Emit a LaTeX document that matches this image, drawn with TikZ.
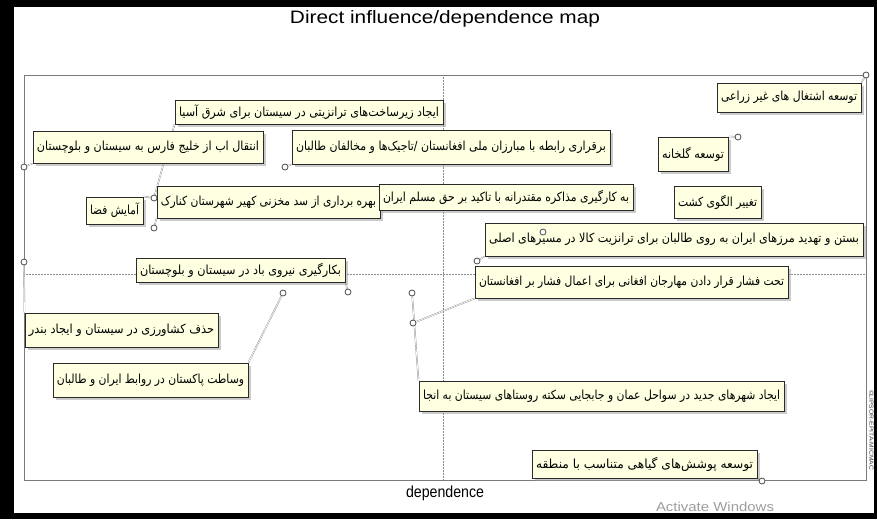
\documentclass[tikz,border=0pt]{standalone}
\usepackage{fontspec}
\usepackage{graphicx}
\setmainfont{Liberation Sans}
\newfontfamily\arabicfont[Script=Arabic]{DejaVu Sans}
\TeXXeTstate=1
\usetikzlibrary{shadows,backgrounds}
\definecolor{lblfill}{HTML}{FFFFE1}
\definecolor{lblborder}{HTML}{2A2A2A}
\definecolor{framecol}{HTML}{7A7A7A}
\newcommand\fa[2]{\resizebox{#1pt}{\height}{\arabicfont\fontsize{12.5}{14}\selectfont #2}}
\newcommand\lab[6]{%
  \pgfmathsetmacro\bw{#4-#2}\pgfmathsetmacro\bh{#5-#3}\pgfmathsetmacro\tw{#4-#2-8}%
  \node[lbl, minimum width=\bw pt, minimum height=\bh pt] (#1) at ({(#2+#4)/2},{-(#3+#5)/2}) {\fa{\tw}{#6}};}
\tikzset{
  lbl/.style={draw=lblborder, fill=lblfill, line width=1pt, inner sep=0pt,
    drop shadow={shadow xshift=2.5pt, shadow yshift=-2.5pt, fill=black!40}},
  pt/.style={circle, draw=black!70, fill=white, line width=0.8pt, minimum size=6pt, inner sep=0pt},
  conn/.style={draw=black!45, line width=0.4pt, double=white, double distance=0.7pt},
  axisline/.style={draw=framecol, line width=1pt},
  midline/.style={draw=black!45, line width=0.5pt, densely dotted}
}
\begin{document}
\begin{tikzpicture}[x=1pt,y=1pt]
\useasboundingbox (0,0) rectangle (877,-519);
\begin{scope}[on background layer]
  \fill[white] (0,0) rectangle (877,-519);
  \fill[black] (0,0) rectangle (877,-7);
  \fill[black] (0,0) rectangle (14,-519);
  \fill[black] (0,-513) rectangle (877,-519);
  \fill[black] (874,0) rectangle (877,-519);
  \draw[midline] (443,-75) -- (443,-480);
  \draw[midline] (24,-274) -- (866,-274);
  \draw[axisline] (24,-75) rectangle (866,-480);
\end{scope}

\node (title) at (445,-19) {\resizebox{310pt}{\height}{\fontsize{18}{20}\selectfont Direct influence/dependence map}};
\node (xlabel) at (445,-493) {\resizebox{78pt}{\height}{\fontsize{16}{18}\selectfont dependence}};
\node[text=black!38] (activate) at (715,-507) {\resizebox{118pt}{\height}{\fontsize{13}{15}\selectfont Activate Windows}};
\node[rotate=-90, text=black!75] (copy) at (871.5,-430) {\resizebox{80pt}{\height}{\fontsize{6}{7}\selectfont ©LIPSOR-EPITA-MICMAC}};

\lab{ashteghal}{717}{83}{861}{112}{\beginR توسعه اشتغال های غیر زراعی\endR}
\lab{zirsakht}{175}{100}{443}{124}{\beginR ایجاد زیرساخت‌های ترانزیتی در سیستان برای شرق آسیا\endR}
\lab{enteghal}{33}{131}{263}{163}{\beginR انتقال اب از خلیج فارس به سیستان  و بلوچستان\endR}
\lab{bargharari}{292}{130}{610}{164}{\beginR برقراری رابطه با مبارزان ملی افغانستان /تاجیک‌ها و مخالفان طالبان\endR}
\lab{golkhane}{658}{137}{728}{171}{\beginR توسعه گلخانه\endR}
\lab{bahre}{157}{186}{380}{218}{\beginR بهره برداری از سد مخزنی کهیر شهرستان کنارک\endR}
\lab{mozakere}{379}{184}{633}{210}{\beginR به کارگیری مذاکره مقتدرانه با تاکید بر حق مسلم ایران\endR}
\lab{amayesh}{86}{197}{143}{224}{\beginR آمایش فضا\endR}
\lab{taghir}{674}{186}{761}{218}{\beginR تغییر الگوی کشت\endR}
\lab{bastan}{485}{223}{863}{256}{\beginR بستن و تهدید مرزهای ایران به روی طالبان برای ترانزیت کالا در مسیرهای اصلی\endR}
\lab{badi}{136}{258}{345}{282}{\beginR بکارگیری نیروی باد در سیستان و بلوچستان\endR}
\lab{tahtfeshar}{475}{266}{788}{298}{\beginR تحت فشار قرار دادن مهارجان افغانی برای اعمال فشار بر افغانستان\endR}
\lab{hazf}{25}{313}{218}{347}{\beginR حذف کشاورزی در سیستان و ایجاد بندر\endR}
\lab{vesatat}{53}{363}{248}{397}{\beginR وساطت پاکستان در روابط ایران و طالبان\endR}
\lab{shahrha}{419}{381}{784}{411}{\beginR ایجاد شهرهای جدید در سواحل عمان و جابجایی سکته روستاهای سیستان به انجا\endR}
\lab{pushesh}{532}{450}{757}{478}{\beginR توسعه پوشش‌های گیاهی متناسب با منطقه\endR}

\node[pt] (c1) at (866,-75) {};
\node[pt] (c2) at (24,-167) {};
\node[pt] (c3) at (285,-167) {};
\node[pt] (c4) at (154,-198) {};
\node[pt] (c5) at (154,-228) {};
\node[pt] (c6) at (738,-137) {};
\node[pt] (c7) at (543,-232) {};
\node[pt] (c8) at (477,-261) {};
\node[pt] (c9) at (24,-262) {};
\node[pt] (c10) at (283,-293) {};
\node[pt] (c11) at (348,-292) {};
\node[pt] (c12) at (412,-293) {};
\node[pt] (c13) at (413,-323) {};
\node[pt] (c14) at (762,-481) {};

\begin{scope}[on background layer]
  \draw[conn] (c1) -- (ashteghal.north east);
  \draw[conn] (c2) -- (enteghal.south west);
  \draw[conn] (c3) -- (bargharari.south west);
  \draw[conn] (zirsakht.south west) -- (c4);
  \draw[conn] (amayesh.north east) -- (c4);
  \draw[conn] (c5) -- (bahre.south west);
  \draw[conn] (c6) -- (golkhane.north east);
  \draw[conn] (c8) -- (bastan.south west);
  \draw[conn] (c9) -- (hazf.north west);
  \draw[conn] (c10) -- (vesatat.north east);
  \draw[conn] (c11) -- (badi.south east);
  \draw[conn] (c12) -- (shahrha.north west);
  \draw[conn] (c13) -- (tahtfeshar.south west);
  \draw[conn] (c14) -- (pushesh.south east);
\end{scope}
\end{tikzpicture}
\end{document}
